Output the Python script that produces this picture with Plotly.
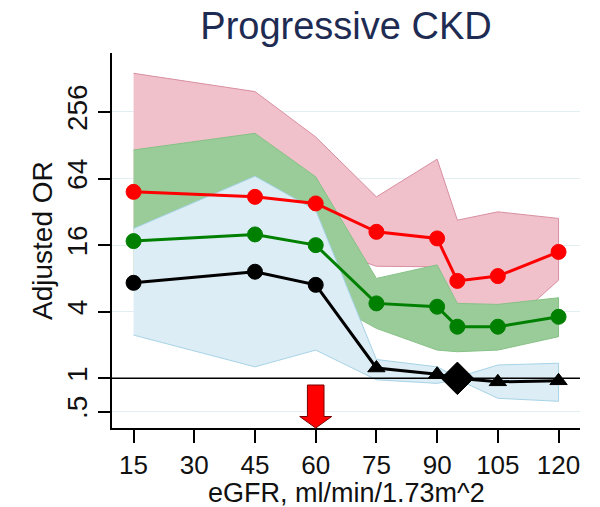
import plotly.graph_objects as go

# ---- data ----
egfr = [15, 45, 60, 75, 90, 95, 105, 120]

red_or = [48.5, 43.7, 38.1, 21.1, 18.4, 7.6, 8.4, 13.9]
red_hi = [572, 391, 152, 43.7, 95.7, 26.9, 32.0, 27.9]
red_lo = [18.4, 22.6, 16.0, 10.3, 10.2, 3.5, 2.5, 7.7]

green_or = [17.4, 20.0, 16.0, 4.76, 4.44, 2.93, 2.93, 3.6]
green_hi = [116, 164, 66.3, 8.0, 10.6, 4.76, 4.66, 5.35]
green_lo = [8.0, 7.5, 5.7, 2.83, 1.8, 1.74, 1.8, 2.38]

black_or = [7.3, 9.2, 7.0, 1.24, 1.09, 1.0, 0.93, 0.95]
black_hi = [22.6, 67.2, 33.1, 1.48, 1.27, 1.02, 1.32, 1.37]
black_lo = [2.46, 1.27, 1.8, 0.97, 0.90, 0.98, 0.66, 0.62]
black_symbols = ["circle", "circle", "circle", "triangle-up", "triangle-up",
                 "diamond", "triangle-up", "triangle-up"]
black_sizes = [15, 15, 15, 15, 15, 25, 15, 15]

x_ticks = [15, 30, 45, 60, 75, 90, 105, 120]
y_ticks = [0.5, 1, 4, 16, 64, 256]
y_ticktext = [".5", "1", "4", "16", "64", "256"]

ARROW_X = 60
REF_OR = 1

FONT = "Liberation Sans, Arial, sans-serif"

# page body has an 8px default margin: the figure is drawn 8px in
PAGE_OFF = 8
FIG_W, FIG_H = 600 - PAGE_OFF, 507 - PAGE_OFF
PLOT_L, PLOT_R, PLOT_T, PLOT_B = 112, 580, 53, 428   # target page pixels
plot_w = PLOT_R - PLOT_L
plot_h = PLOT_B - PLOT_T

fig = go.Figure()


def band(lo, hi, fill, edge):
    fig.add_trace(go.Scatter(
        x=egfr + egfr[::-1], y=hi + lo[::-1], fill="toself",
        fillcolor=fill, mode="lines", line=dict(color=edge, width=1),
        hoverinfo="skip", showlegend=False))


band(red_lo, red_hi, "#f0c0cb", "#d98fa2")
band(green_lo, green_hi, "#99cc99", "#86c186")
band(black_lo, black_hi, "#dcedf5", "#a6d3e6")


def series(y, color, size=15, symbol="circle"):
    fig.add_trace(go.Scatter(
        x=egfr, y=y, mode="lines+markers",
        line=dict(color=color, width=3),
        marker=dict(color=color, size=size, symbol=symbol, opacity=1,
                    line=dict(color=color, width=1)),
        showlegend=False))


series(red_or, "#ff0000")
series(green_or, "#008000")
series(black_or, "#000000", black_sizes, black_symbols)

# reference line at OR = 1
fig.add_shape(type="line", xref="paper", x0=0, x1=1, yref="y",
              y0=REF_OR, y1=REF_OR, line=dict(color="#000000", width=1.5),
              layer="above")

# red arrow at eGFR = 60 (stem + head), sized in pixels -> data units
x_range = [9.67, 125.3]
px_per_unit = plot_w / (x_range[1] - x_range[0])
sw = 8.3 / px_per_unit
hw = 16.0 / px_per_unit
top = 43.0 / plot_h
neck = 11.5 / plot_h
path = (f"M{ARROW_X - sw},{top} L{ARROW_X + sw},{top} L{ARROW_X + sw},{neck} "
        f"L{ARROW_X + hw},{neck} L{ARROW_X},0 L{ARROW_X - hw},{neck} "
        f"L{ARROW_X - sw},{neck} Z")
fig.add_shape(type="path", xref="x", yref="paper", path=path,
              fillcolor="#ff0000", line=dict(color="#7a0000", width=1),
              layer="above")

# axis titles as annotations (page-pixel targets converted to paper units)
fig.add_annotation(text="eGFR, ml/min/1.73m^2", xref="paper", yref="paper",
                   x=0.5, y=-(493 - PLOT_B) / plot_h,
                   xanchor="center", yanchor="middle", showarrow=False,
                   font=dict(size=27, color="#111", family=FONT))
fig.add_annotation(text="Adjusted OR", xref="paper", yref="paper",
                   x=(42.5 - PLOT_L) / plot_w, y=0.5, textangle=-90,
                   xanchor="center", yanchor="middle", showarrow=False,
                   font=dict(size=28, color="#111", family=FONT))

fig.update_layout(
    width=FIG_W, height=FIG_H,
    margin=dict(l=PLOT_L - PAGE_OFF, r=600 - PLOT_R,
                t=PLOT_T - PAGE_OFF, b=507 - PLOT_B),
    paper_bgcolor="white", plot_bgcolor="white",
    font=dict(family=FONT, color="#111111"),
    title=dict(text="Progressive CKD", x=0.5, xref="paper", xanchor="center",
               y=1 - (26 - PAGE_OFF) / FIG_H, yref="container",
               yanchor="middle",
               font=dict(size=38, color="#1e2b52", family=FONT)),
    xaxis=dict(range=x_range, tickvals=x_ticks, automargin=False,
               ticks="outside", ticklen=13, tickwidth=1.5, tickcolor="#000",
               showline=True, linecolor="#000", linewidth=1.5,
               showgrid=False, zeroline=False,
               tickfont=dict(size=26, color="#111")),
    yaxis=dict(type="log", range=[-0.449, 2.941], tickvals=y_ticks,
               ticktext=y_ticktext, tickangle=-90, automargin=False,
               ticks="outside", ticklen=12, tickwidth=1.5, tickcolor="#000",
               showline=True, linecolor="#000", linewidth=1.5,
               showgrid=True, gridcolor="#e2eef2", gridwidth=1,
               zeroline=False,
               tickfont=dict(size=28, color="#111")),
)

fig.write_html("out.html")
